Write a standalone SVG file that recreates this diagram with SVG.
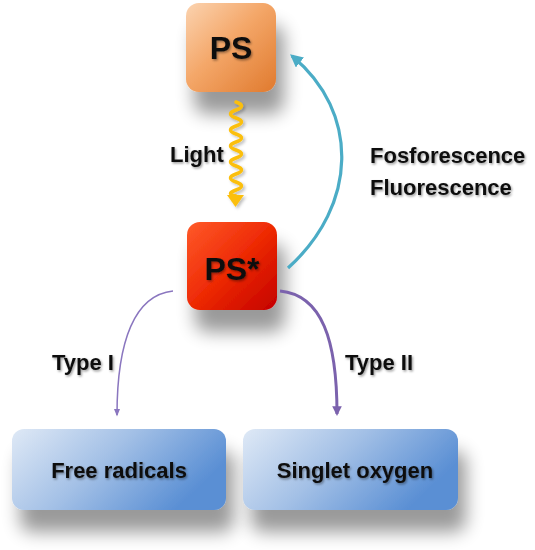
<svg xmlns="http://www.w3.org/2000/svg" width="535" height="550" viewBox="0 0 535 550">
<style>
  .lbl{font-family:"Liberation Sans",Arial,sans-serif;font-weight:bold;font-size:22px;fill:#111;filter:url(#tsh)}
  .big{font-size:32px;text-anchor:middle}
  .mid{text-anchor:middle}
</style>
<defs>
  <linearGradient id="gPS" x1="0" y1="0" x2="1" y2="1">
    <stop offset="0" stop-color="#fbd3b0"/>
    <stop offset="0.45" stop-color="#f4a769"/>
    <stop offset="1" stop-color="#e07a2e"/>
  </linearGradient>
  <linearGradient id="gPSs" x1="0" y1="0" x2="1" y2="1">
    <stop offset="0" stop-color="#ff5a2a"/>
    <stop offset="0.5" stop-color="#ee2a05"/>
    <stop offset="1" stop-color="#c40000"/>
  </linearGradient>
  <linearGradient id="gBlue" x1="0" y1="0" x2="1" y2="0.4">
    <stop offset="0" stop-color="#dfe9f6"/>
    <stop offset="0.5" stop-color="#a3c0e6"/>
    <stop offset="1" stop-color="#5a8fd4"/>
  </linearGradient>
  <filter id="bsh" x="-40%" y="-40%" width="190%" height="210%">
    <feGaussianBlur in="SourceAlpha" stdDeviation="9"/>
    <feOffset dx="8" dy="22" result="b"/>
    <feComponentTransfer><feFuncA type="linear" slope="0.4"/></feComponentTransfer>
    <feMerge><feMergeNode/><feMergeNode in="SourceGraphic"/></feMerge>
  </filter>
  <filter id="wsh" x="-50%" y="-10%" width="200%" height="130%">
    <feDropShadow dx="2" dy="2" stdDeviation="1.5" flood-color="#000" flood-opacity="0.25"/>
  </filter>
  <filter id="tsh" x="-10%" y="-20%" width="130%" height="160%">
    <feDropShadow dx="1.2" dy="1.5" stdDeviation="1" flood-color="#000" flood-opacity="0.4"/>
  </filter>
  <marker id="mCyan" viewBox="0 0 10 10" refX="8" refY="5" markerWidth="4" markerHeight="4" orient="auto" markerUnits="strokeWidth">
    <path d="M0,0 L10,5 L0,10 z" fill="#4bacc6"/>
  </marker>
  <marker id="mP1" viewBox="0 0 10 10" refX="8" refY="5" markerWidth="5" markerHeight="5" orient="auto" markerUnits="strokeWidth">
    <path d="M0,1 L10,5 L0,9 z" fill="#8a76bf"/>
  </marker>
  <marker id="mP2" viewBox="0 0 10 10" refX="8" refY="5" markerWidth="3.2" markerHeight="3.2" orient="auto" markerUnits="strokeWidth">
    <path d="M0,0 L10,5 L0,10 z" fill="#7b62ad"/>
  </marker>
</defs>
<rect width="535" height="550" fill="#ffffff"/>

<g id="node-ps">
  <rect x="186" y="3" width="90" height="89" rx="13" fill="url(#gPS)" filter="url(#bsh)"/>
  <text class="lbl big" x="231" y="59">PS</text>
</g>

<g id="node-psstar">
  <rect x="187" y="222" width="90" height="88" rx="13" fill="url(#gPSs)" filter="url(#bsh)"/>
  <text class="lbl big" x="232" y="280">PS*</text>
</g>

<g id="node-free">
  <rect x="12" y="429" width="214" height="81" rx="12" fill="url(#gBlue)" filter="url(#bsh)"/>
  <text class="lbl mid" x="119" y="478">Free radicals</text>
</g>

<g id="node-singlet">
  <rect x="243" y="429" width="215" height="81" rx="12" fill="url(#gBlue)" filter="url(#bsh)"/>
  <text class="lbl mid" x="355" y="478">Singlet oxygen</text>
</g>

<g id="connectors" fill="none">
  <g id="light-arrow" filter="url(#wsh)">
    <path d="M236,102 q11,4 0,8 t0,8 t0,8 t0,8 t0,8 t0,8 t0,8 t0,8 t0,8 t0,8 t0,8 t0,6" stroke="#fbbf0f" stroke-width="3.5" stroke-linecap="round"/>
    <polygon points="227,195 244,195 235.5,207" fill="#fbbf0f"/>
  </g>
  <path id="fluor" d="M288,268 C 358,205 360,112 292,56" stroke="#4bacc6" stroke-width="3.2" marker-end="url(#mCyan)"/>
  <path id="type1" d="M173,291 C 135,295 117,340 117,415" stroke="#8a76bf" stroke-width="1.5" marker-end="url(#mP1)"/>
  <path id="type2" d="M280,291 C 322,295 337,340 337,414" stroke="#7b62ad" stroke-width="3" marker-end="url(#mP2)"/>
</g>

<g id="labels">
  <text class="lbl" x="170" y="162">Light</text>
  <text class="lbl" x="370" y="163">Fosforescence</text>
  <text class="lbl" x="370" y="195">Fluorescence</text>
  <text class="lbl" x="52" y="370">Type I</text>
  <text class="lbl" x="345" y="370">Type II</text>
</g>
</svg>
